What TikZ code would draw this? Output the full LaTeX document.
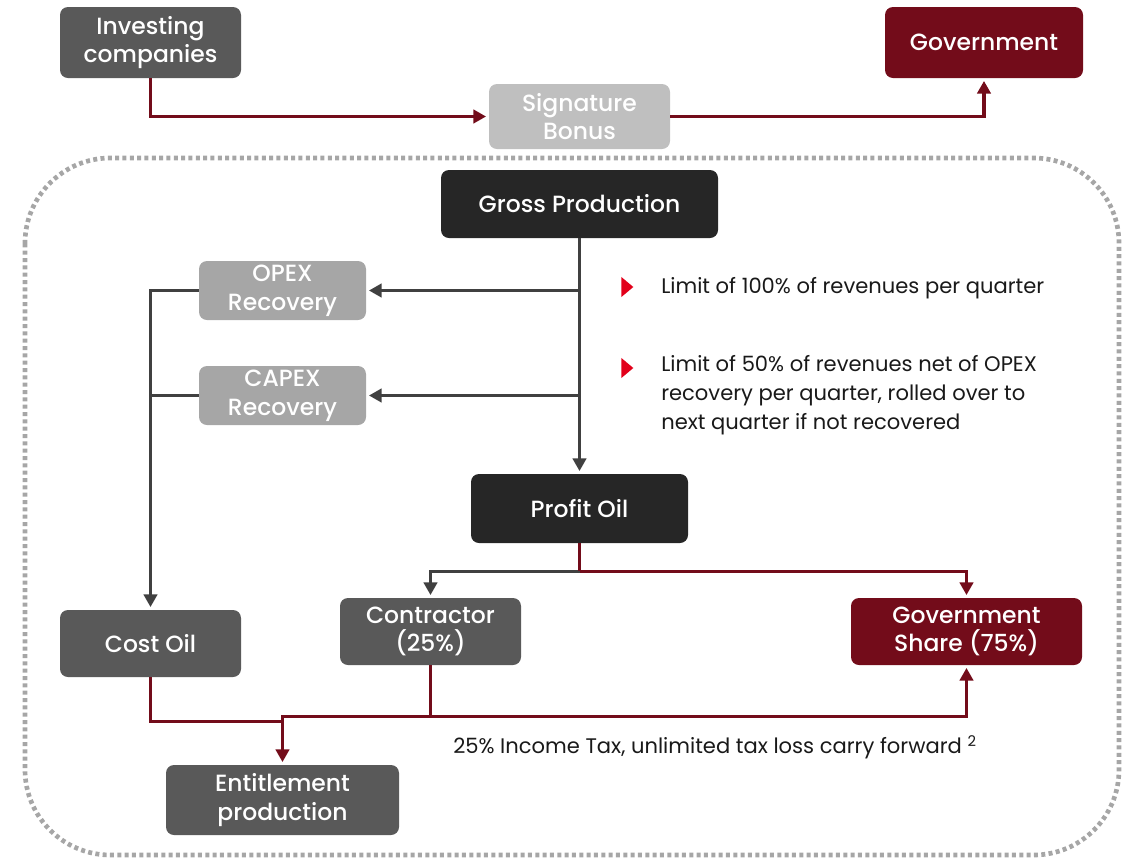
\documentclass[tikz,border=0pt]{standalone}
\usepackage{fontspec}
\setmainfont{Poppins}
\newfontfamily\boxfont{Poppins Medium}
\usepackage{xcolor}
\usetikzlibrary{arrows.meta,calc,positioning,shapes.geometric}
\definecolor{govred}{HTML}{730C1A}
\definecolor{midgrey}{HTML}{595959}
\definecolor{darkbox}{HTML}{262626}
\definecolor{lightbox}{HTML}{A6A6A6}
\definecolor{paleBox}{HTML}{BFBFBF}
\definecolor{linegrey}{HTML}{404040}
\definecolor{bulletred}{HTML}{E2001A}

\begin{document}
\begin{tikzpicture}[x=0.75pt,y=-0.75pt,
  box/.style={rounded corners=6pt,align=center,text=white,inner sep=0pt,
    font=\boxfont\fontsize{17.6}{21.5}\selectfont},
  greybox/.style={box,fill=midgrey},
  redbox/.style={box,fill=govred},
  blackbox/.style={box,fill=darkbox},
  recbox/.style={box,fill=lightbox,minimum width=125.25pt,minimum height=44.25pt},
  note/.style={font=\fontsize{15.8}{21.75}\selectfont,text=black!90,inner sep=0pt,align=left},
  bullet/.style={isosceles triangle,isosceles triangle apex angle=80,fill=bulletred,inner sep=0pt,minimum height=9pt},
  redline/.style={draw=govred,line width=2.6pt},
  greyline/.style={draw=linegrey,line width=2.6pt},
  redarr/.style={redline,-{Triangle[length=9.5pt,width=10pt]},shorten >=2pt},
  greyarr/.style={greyline,-{Triangle[length=9.5pt,width=10pt]},shorten >=2pt}]
\useasboundingbox (0,0) rectangle (1122,858);
% frame round the production split
\draw[lightbox,line width=3.5pt,dash pattern=on 3pt off 2.5pt,rounded corners=64pt]
  (25,158) rectangle (1119,855);
% boxes
\node[greybox,minimum width=135.75pt,minimum height=53.25pt] (inv) at (150.5,42.5) {Investing\\companies};
\node[redbox,minimum width=148.5pt,minimum height=53.25pt] (gov) at (984,42.5) {Government};
\node[box,fill=paleBox,minimum width=135.75pt,minimum height=48.75pt] (sig) at (579.5,116.5) {Signature\\Bonus};
\node[blackbox,minimum width=207.75pt,minimum height=51pt] (gross) at (579.5,204) {Gross Production};
\node[recbox] (opex) at (282.5,290.5) {OPEX\\Recovery};
\node[recbox] (capex) at (282.5,395.5) {CAPEX\\Recovery};
\node[blackbox,minimum width=162.75pt,minimum height=51.75pt] (profit) at (579.5,508.5) {Profit Oil};
\node[greybox,minimum width=135.75pt,minimum height=50.25pt] (cost) at (150.5,643.5) {Cost Oil};
\node[greybox,minimum width=135.75pt,minimum height=50.25pt] (contr) at (430.5,631.5) {Contractor\\(25\%)};
\node[redbox,minimum width=173.25pt,minimum height=50.25pt] (govsh) at (966.5,631.5) {Government\\Share (75\%)};
\node[greybox,minimum width=174.75pt,minimum height=52.5pt] (ent) at (282.5,800) {Entitlement\\production};
% notes
\node[bullet] (b1) at (626,287) {};
\node[note,anchor=west] (n1) at (661,288) {Limit of 100\% of revenues per quarter};
\node[bullet] (b2) at (626,368) {};
\node[note,anchor=north west] (n2) at (661,355) {Limit of 50\% of revenues net of OPEX\\recovery per quarter, rolled over to\\next quarter if not recovered};
\node[note,anchor=west] (taxlbl) at (453,747) {25\% Income Tax, unlimited tax loss carry forward \textsuperscript{2}};
% signature bonus
\draw[redarr] (inv.south) |- (sig.west);
\draw[redarr] (sig.east) -| (gov.south);
% cost recovery
\draw[greyarr] (gross.south) -- (profit.north);
\draw[greyarr] (gross.south |- opex.east) -- (opex.east);
\draw[greyarr] (gross.south |- capex.east) -- (capex.east);
\draw[greyarr] (opex.west) -| (cost.north);
\draw[greyline] (capex.west) -- (capex.west -| cost.north);
% profit split
\coordinate (split) at ($(profit.south)+(0,28)$);
\draw[greyarr] (split) -| (contr.north);
\draw[redarr] (split) -| (govsh.north);
\draw[redline] (profit.south) -- (split);
% entitlement and tax
\coordinate (tx) at ($(contr.south)+(0,51)$);
\draw[redline] (contr.south) -- (tx);
\draw[redarr] (tx) -| (govsh.south);
\draw[redarr] (tx) -| (ent.north);
\draw[redline] (cost.south) |- ($(ent.north |- tx)+(0,5)$);
\end{tikzpicture}
\end{document}
